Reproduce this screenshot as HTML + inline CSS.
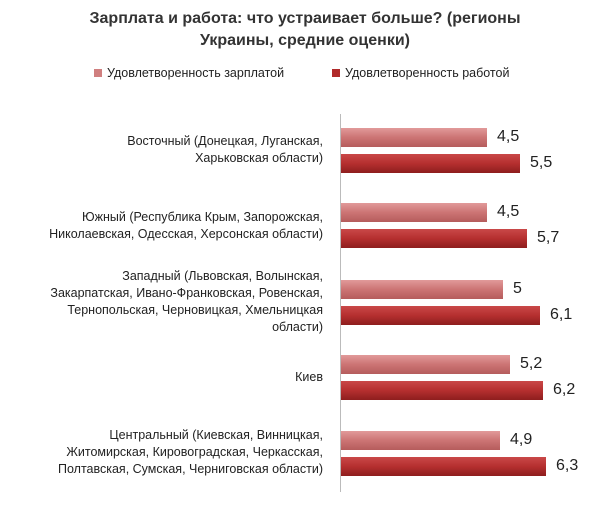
<!DOCTYPE html><html><head><style>
body{margin:0;background:#fff;width:610px;height:509px;position:relative;font-family:"Liberation Sans",sans-serif;color:#222;overflow:hidden}
.t{position:absolute;left:0;width:610px;text-align:center;top:8px;font-weight:bold;font-size:16px;line-height:22px;color:#333}
.lg{position:absolute;top:66px;font-size:12.5px}
.sw{display:inline-block;width:8px;height:8px;margin-right:5px;vertical-align:0}
.lab{position:absolute;right:287px;text-align:right;font-size:12.5px;line-height:17px}
.b{position:absolute;left:341px;height:19px}
.b1{background:linear-gradient(#e19a9a,#cc7474 50%,#b55c5c)}
.b2{background:linear-gradient(#c94848,#b52f2f 50%,#8e1e1e)}
.v{position:absolute;font-size:16px}
</style></head><body>
<div class="t">Зарплата и работа: что устраивает больше? (регионы<br>Украины, средние оценки)</div>
<div class="lg" style="left:94px"><span class="sw" style="background:#d07f7f"></span>Удовлетворенность зарплатой</div>
<div class="lg" style="left:332px"><span class="sw" style="background:#b02a2a"></span>Удовлетворенность работой</div>
<div style="position:absolute;left:340px;top:114px;width:1px;height:378px;background:#bbb"></div>
<div class="lab" style="top:133px">Восточный (Донецкая, Луганская,<br>Харьковская области)</div>
<div class="lab" style="top:209px">Южный (Республика Крым, Запорожская,<br>Николаевская, Одесская, Херсонская области)</div>
<div class="lab" style="top:268px">Западный (Львовская, Волынская,<br>Закарпатская, Ивано-Франковская, Ровенская,<br>Тернопольская, Черновицкая, Хмельницкая<br>области)</div>
<div class="lab" style="top:369px">Киев</div>
<div class="lab" style="top:427px">Центральный (Киевская, Винницкая,<br>Житомирская, Кировоградская, Черкасская,<br>Полтавская, Сумская, Черниговская области)</div>

<div class="b b1" style="top:128px;width:146px"></div><div class="v" style="left:497px;top:128px">4,5</div>
<div class="b b2" style="top:154px;width:179px"></div><div class="v" style="left:530px;top:154px">5,5</div>
<div class="b b1" style="top:203px;width:146px"></div><div class="v" style="left:497px;top:203px">4,5</div>
<div class="b b2" style="top:229px;width:186px"></div><div class="v" style="left:537px;top:229px">5,7</div>
<div class="b b1" style="top:280px;width:162px"></div><div class="v" style="left:513px;top:280px">5</div>
<div class="b b2" style="top:306px;width:199px"></div><div class="v" style="left:550px;top:306px">6,1</div>
<div class="b b1" style="top:355px;width:169px"></div><div class="v" style="left:520px;top:355px">5,2</div>
<div class="b b2" style="top:381px;width:202px"></div><div class="v" style="left:553px;top:381px">6,2</div>
<div class="b b1" style="top:431px;width:159px"></div><div class="v" style="left:510px;top:431px">4,9</div>
<div class="b b2" style="top:457px;width:205px"></div><div class="v" style="left:556px;top:457px">6,3</div>
</body></html>
